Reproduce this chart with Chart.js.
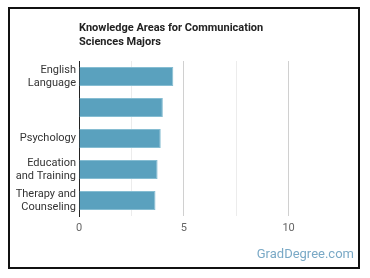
<!DOCTYPE html>
<html>
<head>
<meta charset="utf-8">
<script src="https://cdn.jsdelivr.net/npm/chart.js@4"></script>
<style>
  body { margin: 0; background: #fff; font-family: Roboto, sans-serif; }
  #wrap { position: relative; width: 370px; height: 278px; }
  #frame { position: absolute; left: 8px; top: 7px; width: 348px; height: 258px; border: 2px solid #111; pointer-events: none; }
  #title { position: absolute; left: 79px; top: 21px; font-size: 11px; font-weight: bold; line-height: 14px; color: #222; }
  #brand { position: absolute; right: 16px; top: 246px; font-size: 13px; color: #7aa9c6; }
  canvas { position: absolute; left: 0; top: 0; }
</style>
</head>
<body>
<div id="wrap">
  <canvas id="chart" width="370" height="278"></canvas>
  <div id="title">Knowledge Areas for Communication<br>Sciences Majors</div>
  <div id="brand">GradDegree.com</div>
  <div id="frame"></div>
</div>
<script>
        // Data
        const categories = [
            ['English', 'Language'],
            '',
            'Psychology',
            ['Education', 'and Training'],
            ['Therapy and', 'Counseling']
        ];
        const values = [4.5, 4.0, 3.9, 3.75, 3.65];
        const tickLabels = { 0: '0', 5: '5', 10: '10' };

        const ctx = document.getElementById('chart').getContext('2d');
        const chart = new Chart(ctx, {
            type: 'bar',
            data: {
                labels: categories,
                datasets: [{
                    data: values,
                    backgroundColor: '#5aa1be',
                    borderColor: '#86bdd2',
                    borderWidth: 1,
                    barPercentage: 0.62,
                    categoryPercentage: 1
                }]
            },
            options: {
                indexAxis: 'y',
                responsive: false,
                animation: false,
                layout: {
                    padding: { top: 61, bottom: 38, right: 29, left: 0 }
                },
                plugins: {
                    legend: { display: false },
                    tooltip: { enabled: false }
                },
                scales: {
                    x: {
                        min: 0,
                        max: 12.5,
                        ticks: {
                            stepSize: 2.5,
                            color: '#666',
                            font: { family: 'Roboto', size: 11 },
                            padding: 6,
                            callback: v => tickLabels[v] !== undefined ? tickLabels[v] : ''
                        },
                        grid: {
                            color: ctx => {
                                const v = ctx.tick ? ctx.tick.value : 0;
                                if (v === 0 || v === 12.5) return 'rgba(0,0,0,0)';
                                return v % 5 === 0 ? '#d0d0d0' : '#ececec';
                            },
                            drawTicks: false
                        },
                        border: { display: false },
                        afterFit: s => { s.height = 24; }
                    },
                    y: {
                        ticks: {
                            color: '#333',
                            font: { family: 'Roboto', size: 11 },
                            padding: 3
                        },
                        grid: { display: false, drawTicks: false },
                        border: { display: true, color: '#222', width: 1 },
                        afterFit: s => { s.width = 79; }
                    }
                }
            }
        });
</script>
</body>
</html>
